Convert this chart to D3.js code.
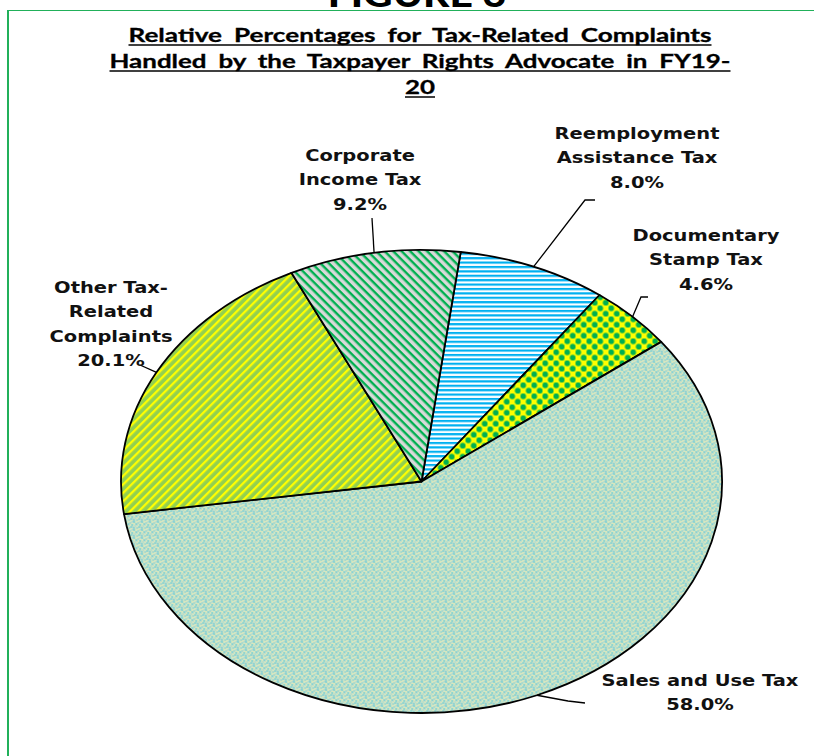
<!DOCTYPE html>
<html>
<head>
<meta charset="utf-8">
<script src="https://cdn.jsdelivr.net/npm/d3@7"></script>
<style>
body { margin: 0; background: #fff; }
svg { display: block; }
</style>
</head>
<body>
<script>
// categories in clockwise order, starting just right of 12 o'clock
var categories = ["Reemployment Assistance Tax", "Documentary Stamp Tax", "Sales and Use Tax", "Other Tax-Related Complaints", "Corporate Income Tax"];
var values = [8.0, 4.6, 58.0, 20.1, 9.2];
var labelLines = [
  ["Reemployment", "Assistance Tax"],
  ["Documentary", "Stamp Tax"],
  ["Sales and Use Tax"],
  ["Other Tax-", "Related", "Complaints"],
  ["Corporate", "Income Tax"]
];
var titleLines = ["Relative Percentages for Tax-Related Complaints", "Handled by the Taxpayer Rights Advocate in FY19-", "20"];

var W = 814, H = 756;
var cx = 421.5, cy = 481.5, rx = 300.5, ry = 231.5;
var sy = ry / rx;

// label layout: centre x, first line y, leader end points
var labelLayout = [
  {x: 637, y: 133, lead: [[585, 200], [595, 200]]},
  {x: 706, y: 235, lead: [[641, 297], [648, 297]]},
  {x: 700, y: 680, lead: [[568, 701], [585, 703]]},
  {x: 111, y: 287, lead: [[140, 365]]},
  {x: 360, y: 155, lead: [[372, 218]]}
];
var lineH = 24.3;

var svg = d3.select("body").append("svg")
  .attr("width", W).attr("height", H);

var defs = svg.append("defs");
var unsq = "scale(1," + (1 / sy) + ")";

// Sales and Use Tax: pale green with blue confetti
var p0 = defs.append("pattern").attr("id", "pSales")
  .attr("patternUnits", "userSpaceOnUse").attr("width", 8).attr("height", 8)
  .attr("patternTransform", unsq);
p0.append("rect").attr("width", 8).attr("height", 8).attr("fill", "#d6e6c0");
[[0,0,"#00b0f0"],[4,1,"#5cc0e4"],[2,2,"#1ab4ee"],[6,3,"#00b0f0"],[1,4,"#7fcbe0"],[5,5,"#0db2ef"],[3,6,"#4fbde6"],[7,7,"#8fd0dc"],[0,6,"#2db6e8"],[6,0,"#8fd0dc"],[3,3,"#9bd3da"],[7,5,"#6cc5e2"]]
  .forEach(function(d) {
    p0.append("rect").attr("x", d[0]).attr("y", d[1]).attr("width", 1.3).attr("height", 1).attr("fill", d[2]);
  });

// Other: yellow / green upward diagonal
var p1 = defs.append("pattern").attr("id", "pOther")
  .attr("patternUnits", "userSpaceOnUse").attr("width", 6).attr("height", 6)
  .attr("patternTransform", unsq + " rotate(-45)");
p1.append("rect").attr("width", 6).attr("height", 6).attr("fill", "#92d050");
p1.append("rect").attr("width", 6).attr("height", 2.3).attr("fill", "#ffff00");

// Corporate: green stripes on grey, downward diagonal
var p2 = defs.append("pattern").attr("id", "pCorp")
  .attr("patternUnits", "userSpaceOnUse").attr("width", 6).attr("height", 6)
  .attr("patternTransform", unsq + " rotate(45)");
p2.append("rect").attr("width", 6).attr("height", 6).attr("fill", "#d9d9d9");
p2.append("rect").attr("width", 6).attr("height", 2.4).attr("fill", "#00b050");

// Reemployment: blue horizontal lines
var p3 = defs.append("pattern").attr("id", "pReemp")
  .attr("patternUnits", "userSpaceOnUse").attr("width", 4).attr("height", 4.4)
  .attr("patternTransform", unsq);
p3.append("rect").attr("width", 4).attr("height", 4.4).attr("fill", "#ffffff");
p3.append("rect").attr("width", 4).attr("height", 2.2).attr("fill", "#00b0f0");

// Documentary: green dots on yellow
var p4 = defs.append("pattern").attr("id", "pDoc")
  .attr("patternUnits", "userSpaceOnUse").attr("width", 11).attr("height", 11)
  .attr("patternTransform", unsq);
p4.append("rect").attr("width", 11).attr("height", 11).attr("fill", "#ffff00");
[[2.75, 2.75], [8.25, 8.25]].forEach(function(d) {
  p4.append("circle").attr("cx", d[0]).attr("cy", d[1]).attr("r", 2.9).attr("fill", "#00b050");
});

var fills = ["url(#pReemp)", "url(#pDoc)", "url(#pSales)", "url(#pOther)", "url(#pCorp)"];

// frame
svg.append("path")
  .attr("d", "M8," + H + " L8,10 L" + W + ",10")
  .attr("fill", "none").attr("stroke", "#21b05a").attr("stroke-width", 2);

// figure heading, cut by the top edge as in the source page
svg.append("text")
  .attr("x", 0).attr("y", 0)
  .attr("transform", "translate(417,7) scale(1.2,1)")
  .attr("text-anchor", "middle")
  .attr("font-family", "Lato, sans-serif").attr("font-weight", 900)
  .attr("font-size", 34).attr("fill", "#000")
  .text("FIGURE 3");
svg.append("rect").attr("x", 0).attr("y", 9).attr("width", W).attr("height", 1).attr("fill", "#fff");

// title
var titleWidths = [583, 621, 30];
var titleY = [42, 68, 94];
titleLines.forEach(function(t, i) {
  svg.append("text")
    .attr("x", 420).attr("y", titleY[i])
    .attr("text-anchor", "middle")
    .attr("font-family", "Lato, sans-serif").attr("font-weight", 700)
    .attr("font-size", 18.5).attr("fill", "#000")
    .attr("stroke", "#000").attr("stroke-width", 0.3)
    .attr("textLength", titleWidths[i]).attr("lengthAdjust", "spacingAndGlyphs")
    .attr("word-spacing", 4)
    .text(t);
  svg.append("line")
    .attr("x1", 420 - titleWidths[i] / 2).attr("x2", 420 + titleWidths[i] / 2)
    .attr("y1", titleY[i] + 3).attr("y2", titleY[i] + 3)
    .attr("stroke", "#000").attr("stroke-width", 1.5);
});

// pie
var a0 = 7.5 * Math.PI / 180;
var pie = d3.pie().sort(null).value(function(d) { return d; })
  .startAngle(a0).endAngle(a0 + 2 * Math.PI);
var arcs = pie(values);
var arc = d3.arc().innerRadius(0).outerRadius(rx);

var g = svg.append("g")
  .attr("transform", "translate(" + cx + "," + cy + ") scale(1," + sy + ")");

g.selectAll("path.slice")
  .data(arcs)
  .enter()
  .append("path")
  .attr("class", "slice")
  .attr("d", arc)
  .attr("fill", function(d, i) { return fills[i]; })
  .attr("stroke", "#000")
  .attr("stroke-width", 1.8)
  .attr("vector-effect", "non-scaling-stroke")
  .attr("stroke-linejoin", "round");

// leader lines
var line = d3.line();
arcs.forEach(function(d, i) {
  var mid = (d.startAngle + d.endAngle) / 2;
  var p = [cx + rx * Math.sin(mid), cy - ry * Math.cos(mid)];
  svg.append("path")
    .attr("d", line([p].concat(labelLayout[i].lead)))
    .attr("fill", "none").attr("stroke", "#000").attr("stroke-width", 1.3);
});

// labels
arcs.forEach(function(d, i) {
  var L = labelLayout[i];
  var lines = labelLines[i].concat([d3.format(".1f")(values[i]) + "%"]);
  var t = svg.append("text")
    .attr("transform", "translate(" + L.x + "," + L.y + ") scale(1.18,1)")
    .attr("text-anchor", "middle")
    .attr("font-family", "'DejaVu Sans', Verdana, sans-serif")
    .attr("font-weight", 700).attr("font-size", 16.5).attr("fill", "#111");
  lines.forEach(function(s, j) {
    t.append("tspan").attr("x", 0).attr("y", j * lineH).attr("dy", "0.36em").text(s);
  });
});
</script>
</body>
</html>
